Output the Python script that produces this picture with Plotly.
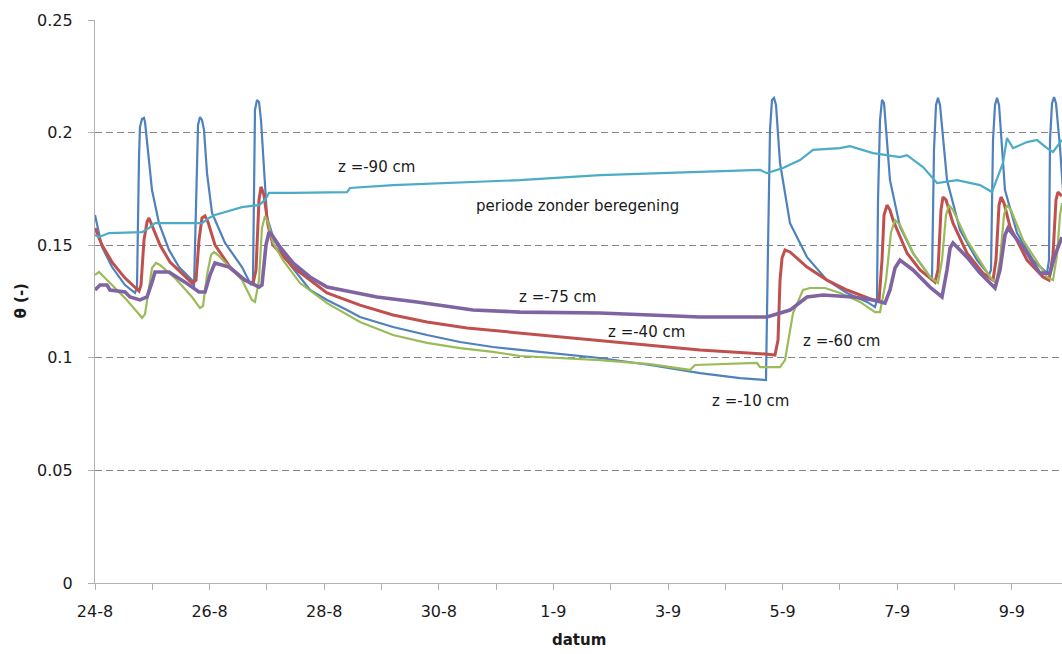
import plotly.graph_objects as go

# x = days since 24-8 (00:00), y = theta (-)
tick_days = [0, 2, 4, 6, 8, 10, 12, 14, 16]
tick_labels = ["24-8", "26-8", "28-8", "30-8", "1-9", "3-9", "5-9", "7-9", "9-9"]
minor_days = [1, 3, 5, 7, 9, 11, 13, 15]

z10_t = [0.000, 0.122, 0.297, 0.524, 0.698, 0.733, 0.768, 0.785, 0.820, 0.855, 0.873, 0.942, 0.995, 1.117, 1.291,
         1.466, 1.693, 1.728, 1.763, 1.798, 1.832, 1.867, 1.902, 1.955, 2.042, 2.269, 2.565, 2.723, 2.757, 2.775,
         2.792, 2.827, 2.862, 2.897, 2.949, 3.002, 3.124, 3.438, 3.752, 4.049, 4.398, 4.625, 5.201, 5.794, 6.370,
         6.946, 7.417, 8.813, 9.686, 10.559, 11.257, 11.658, 11.710, 11.745, 11.780, 11.815, 11.850, 11.885,
         11.955, 12.129, 12.426, 12.775, 13.124, 13.473, 13.613, 13.647, 13.665, 13.700, 13.735, 13.770, 13.822,
         13.874, 14.049, 14.276, 14.572, 14.607, 14.642, 14.677, 14.712, 14.747, 14.869, 15.096, 15.393, 15.602,
         15.637, 15.672, 15.707, 15.742, 15.777, 15.881, 16.091, 16.370, 16.614, 16.649, 16.667, 16.702, 16.737,
         16.771, 16.841, 16.893]
z10_v = [0.1634, 0.1492, 0.1403, 0.1323, 0.1288, 0.1314, 0.1891, 0.2025, 0.2060, 0.2065, 0.2047, 0.1891, 0.1745,
         0.1598, 0.1479, 0.1403, 0.1345, 0.1314, 0.1701, 0.2034, 0.2069, 0.2056, 0.2012, 0.1820, 0.1643, 0.1510,
         0.1403, 0.1323, 0.1345, 0.1834, 0.2100, 0.2145, 0.2136, 0.2056, 0.1820, 0.1625, 0.1523, 0.1403, 0.1301,
         0.1257, 0.1212, 0.1181, 0.1137, 0.1101, 0.1070, 0.1048, 0.1035, 0.0999, 0.0968, 0.0932, 0.0910, 0.0901,
         0.0901, 0.1479, 0.2012, 0.2145, 0.2154, 0.2123, 0.1865, 0.1598, 0.1447, 0.1345, 0.1288, 0.1248, 0.1225,
         0.1257, 0.1701, 0.2056, 0.2145, 0.2131, 0.1967, 0.1789, 0.1581, 0.1465, 0.1359, 0.1345, 0.1923, 0.2123,
         0.2154, 0.2123, 0.1789, 0.1567, 0.1434, 0.1368, 0.1390, 0.1967, 0.2123, 0.2154, 0.2123, 0.1745, 0.1554,
         0.1434, 0.1376, 0.1434, 0.1967, 0.2131, 0.2158, 0.2131, 0.1936, 0.1745]

z40_t = [0.000, 0.122, 0.297, 0.524, 0.768, 0.803, 0.855, 0.908, 0.942, 0.995, 1.134, 1.309, 1.483, 1.693, 1.763,
         1.815, 1.867, 1.920, 1.972, 2.094, 2.356, 2.618, 2.757, 2.810, 2.862, 2.897, 2.949, 3.019, 3.106, 3.455,
         4.049, 4.625, 5.201, 5.794, 6.492, 7.417, 8.813, 10.559, 11.693, 11.867, 11.920, 11.955, 11.990, 12.042,
         12.129, 12.426, 12.775, 13.124, 13.578, 13.682, 13.735, 13.770, 13.822, 13.874, 13.927, 14.171, 14.398,
         14.660, 14.712, 14.764, 14.799, 14.852, 14.974, 15.218, 15.497, 15.672, 15.724, 15.777, 15.812, 15.864,
         15.969, 16.265, 16.545, 16.649, 16.719, 16.771, 16.806, 16.876]
z40_v = [0.1576, 0.1501, 0.1425, 0.1354, 0.1296, 0.1323, 0.1523, 0.1603, 0.1621, 0.1590, 0.1501, 0.1425, 0.1381,
         0.1332, 0.1345, 0.1523, 0.1621, 0.1630, 0.1603, 0.1501, 0.1403, 0.1345, 0.1328, 0.1390, 0.1701, 0.1759,
         0.1723, 0.1590, 0.1501, 0.1403, 0.1288, 0.1234, 0.1190, 0.1159, 0.1132, 0.1110, 0.1079, 0.1035, 0.1017,
         0.1012, 0.1079, 0.1345, 0.1443, 0.1479, 0.1470, 0.1403, 0.1345, 0.1301, 0.1257, 0.1252, 0.1434, 0.1634,
         0.1678, 0.1656, 0.1612, 0.1465, 0.1390, 0.1336, 0.1390, 0.1656, 0.1714, 0.1701, 0.1598, 0.1465, 0.1376,
         0.1345, 0.1434, 0.1678, 0.1714, 0.1687, 0.1581, 0.1434, 0.1359, 0.1345, 0.1456, 0.1701, 0.1736, 0.1718]

z60_t = [0.000, 0.070, 0.175, 0.297, 0.524, 0.750, 0.820, 0.873, 0.942, 0.995, 1.065, 1.134, 1.396, 1.693, 1.832,
         1.885, 1.955, 2.024, 2.077, 2.147, 2.565, 2.740, 2.792, 2.862, 2.914, 2.967, 3.019, 3.106, 3.281, 3.578,
         4.049, 4.625, 5.201, 5.794, 6.370, 6.946, 7.417, 8.813, 9.686, 10.384, 10.471, 11.553, 11.606, 11.955,
         12.042, 12.182, 12.356, 12.478, 12.740, 13.002, 13.351, 13.613, 13.700, 13.805, 13.892, 13.962, 14.049,
         14.276, 14.572, 14.712, 14.782, 14.852, 14.904, 14.974, 15.218, 15.620, 15.724, 15.794, 15.864, 15.916,
         15.986, 16.196, 16.614, 16.719, 16.789, 16.841, 16.876]
z60_v = [0.1368, 0.1381, 0.1354, 0.1323, 0.1265, 0.1199, 0.1177, 0.1194, 0.1323, 0.1399, 0.1421, 0.1412, 0.1354,
         0.1270, 0.1221, 0.1230, 0.1368, 0.1456, 0.1470, 0.1456, 0.1345, 0.1257, 0.1248, 0.1345, 0.1576, 0.1630,
         0.1603, 0.1510, 0.1434, 0.1332, 0.1243, 0.1159, 0.1101, 0.1066, 0.1043, 0.1026, 0.1008, 0.0990, 0.0972,
         0.0946, 0.0968, 0.0977, 0.0959, 0.0959, 0.0990, 0.1199, 0.1301, 0.1310, 0.1310, 0.1288, 0.1248, 0.1203,
         0.1203, 0.1345, 0.1558, 0.1612, 0.1590, 0.1465, 0.1359, 0.1332, 0.1434, 0.1634, 0.1678, 0.1656, 0.1523,
         0.1359, 0.1332, 0.1434, 0.1634, 0.1678, 0.1656, 0.1523, 0.1359, 0.1345, 0.1456, 0.1634, 0.1687]

z75_t = [0.000, 0.087, 0.209, 0.262, 0.524, 0.611, 0.785, 0.908, 0.995, 1.047, 1.291, 1.571, 1.815, 1.920, 2.007,
         2.094, 2.339, 2.618, 2.862, 2.914, 2.984, 3.037, 3.089, 3.229, 3.455, 3.752, 4.049, 4.450, 4.921, 5.620,
         6.597, 7.417, 8.813, 10.559, 11.728, 12.129, 12.426, 12.705, 13.229, 13.578, 13.787, 13.874, 13.962,
         14.049, 14.276, 14.572, 14.782, 14.869, 14.922, 14.974, 15.218, 15.445, 15.707, 15.794, 15.881, 15.934,
         16.196, 16.492, 16.667, 16.754, 16.876]
z75_v = [0.1301, 0.1323, 0.1323, 0.1301, 0.1292, 0.1270, 0.1257, 0.1270, 0.1336, 0.1381, 0.1381, 0.1336, 0.1292,
         0.1292, 0.1368, 0.1421, 0.1403, 0.1345, 0.1314, 0.1323, 0.1501, 0.1558, 0.1545, 0.1492, 0.1421, 0.1359,
         0.1314, 0.1292, 0.1270, 0.1248, 0.1212, 0.1203, 0.1199, 0.1181, 0.1181, 0.1212, 0.1270, 0.1279, 0.1270,
         0.1257, 0.1243, 0.1301, 0.1399, 0.1434, 0.1390, 0.1314, 0.1270, 0.1390, 0.1487, 0.1510, 0.1447, 0.1376,
         0.1310, 0.1390, 0.1545, 0.1576, 0.1492, 0.1376, 0.1376, 0.1456, 0.1536]

z90_t = [0.000, 0.070, 0.244, 0.820, 0.942, 1.047, 1.867, 1.990, 2.094, 2.565, 2.862, 2.967, 3.037, 3.438, 4.398,
         4.450, 5.201, 6.370, 7.417, 8.813, 9.983, 11.606, 11.728, 12.007, 12.304, 12.531, 13.002, 13.176, 13.578,
         14.049, 14.171, 14.450, 14.695, 15.044, 15.445, 15.654, 15.846, 15.916, 16.021, 16.265, 16.440, 16.614,
         16.719, 16.876]
z90_v = [0.1545, 0.1536, 0.1554, 0.1558, 0.1576, 0.1598, 0.1598, 0.1621, 0.1634, 0.1669, 0.1678, 0.1701, 0.1732,
         0.1732, 0.1736, 0.1754, 0.1767, 0.1780, 0.1789, 0.1811, 0.1820, 0.1834, 0.1820, 0.1843, 0.1878, 0.1923,
         0.1931, 0.1940, 0.1909, 0.1891, 0.1900, 0.1847, 0.1776, 0.1789, 0.1767, 0.1736, 0.1865, 0.1976, 0.1931,
         0.1958, 0.1967, 0.1931, 0.1914, 0.1967]

series = [
    ("z = -10 cm", z10_t, z10_v, "#4F81BD", 2.2),
    ("z = -40 cm", z40_t, z40_v, "#C0504D", 3.0),
    ("z = -60 cm", z60_t, z60_v, "#9BBB59", 2.2),
    ("z = -75 cm", z75_t, z75_v, "#8064A2", 3.6),
    ("z = -90 cm", z90_t, z90_v, "#4BACC6", 2.2),
]

fig = go.Figure()
for name, t, v, col, w in series:
    fig.add_trace(go.Scatter(x=t, y=v, mode="lines", name=name,
                             line=dict(color=col, width=w), showlegend=False))

FONT = "DejaVu Sans"
labels = [
    ("z =-90 cm", 4.904, 0.1847),
    ("periode zonder beregening", 8.429, 0.1674),
    ("z =-75 cm", 8.063, 0.1270),
    ("z =-40 cm", 9.616, 0.1115),
    ("z =-60 cm", 13.02, 0.1075),
    ("z =-10 cm", 11.431, 0.0808),
]
for txt, xd, yd in labels:
    fig.add_annotation(x=xd, y=yd, text=txt, showarrow=False,
                       font=dict(family=FONT, size=15, color="#1a1a1a"))

fig.add_annotation(xref="paper", yref="paper", x=0, y=0.5, xshift=-75, xanchor="center", yanchor="middle",
                   text="<b>θ (-)</b>", textangle=-90, showarrow=False,
                   font=dict(family=FONT, size=15, color="#1a1a1a"))
fig.add_annotation(xref="paper", yref="paper", x=0.5, y=0, yshift=-57, xanchor="center", yanchor="middle",
                   text="<b>datum</b>", showarrow=False,
                   font=dict(family=FONT, size=15, color="#1a1a1a"))

fig.update_layout(
    width=1062, height=654,
    margin=dict(l=95, r=0, t=20, b=71),
    paper_bgcolor="white", plot_bgcolor="white",
    font=dict(family=FONT, size=16, color="#1a1a1a"),
)
fig.update_xaxes(
    range=[0, 16.876], tickmode="array", tickvals=tick_days, ticktext=tick_labels,
    showgrid=False, zeroline=False, showline=True, linecolor="#B0B0B0", linewidth=1.3,
    ticks="outside", ticklen=6, tickcolor="#B0B0B0", ticklabelstandoff=8,
    minor=dict(tickmode="array", tickvals=minor_days, ticks="outside", ticklen=6, tickcolor="#B0B0B0", showgrid=False),
)
fig.update_yaxes(
    range=[0, 0.25], tick0=0, dtick=0.05, tickformat="~g",
    showgrid=True, gridcolor="#868686", griddash="7px,4px", gridwidth=1,
    zeroline=False, showline=True, linecolor="#B0B0B0", linewidth=1.3,
    ticks="outside", ticklen=6, tickcolor="#B0B0B0", ticklabelstandoff=12,
)

fig.write_html("out.html")
